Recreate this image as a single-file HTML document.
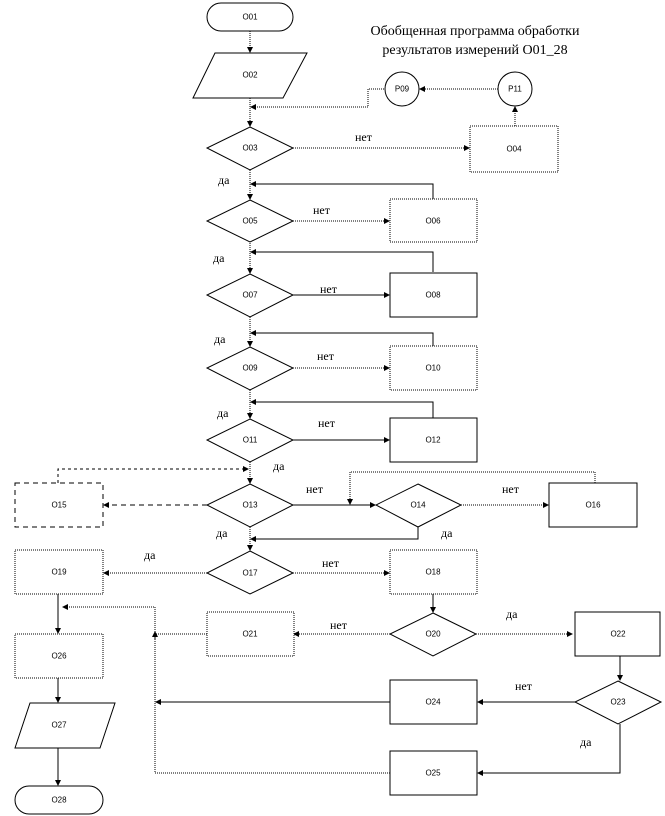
<!DOCTYPE html>
<html><head><meta charset="utf-8"><style>
html,body{margin:0;padding:0;background:#fff;}
svg{display:block}
.s{font-family:"Liberation Sans",sans-serif;font-size:8px;fill:#000;text-anchor:middle;dominant-baseline:central}
.l{font-family:"Liberation Serif","DejaVu Serif",serif;font-size:12px;fill:#000}
.t{font-family:"Liberation Serif","DejaVu Serif",serif;font-size:14px;fill:#000;text-anchor:middle}
.b{fill:#fff;stroke:#000;stroke-width:1}
.d{stroke-dasharray:1,1}
line,polyline{fill:none;stroke:#000;stroke-width:1}
</style></head><body>
<svg width="665" height="816" viewBox="0 0 665 816" xmlns="http://www.w3.org/2000/svg">
<defs><marker id="a" markerWidth="6" markerHeight="6" refX="5" refY="3" orient="auto" markerUnits="userSpaceOnUse"><path d="M0,0 L6,3 L0,6z" fill="#000"/></marker></defs>
<text class="t" x="475" y="35">Обобщенная программа обработки</text>
<text class="t" x="475" y="54">результатов измерений О01_28</text>

<line class="d" x1="250" y1="31" x2="250" y2="52" marker-end="url(#a)"/>
<line class="d" x1="250" y1="98" x2="250" y2="126" marker-end="url(#a)"/>
<polyline class="d" points="386,89 368,89 368,107 251,107" marker-end="url(#a)"/>
<line class="d" x1="498" y1="89" x2="420" y2="89" marker-end="url(#a)"/>
<line class="d" x1="515" y1="126" x2="515" y2="107" marker-end="url(#a)"/>
<line class="d" x1="293" y1="148" x2="469" y2="148" marker-end="url(#a)"/>
<line class="d" x1="250" y1="170" x2="250" y2="199" marker-end="url(#a)"/>
<polyline points="433,199 433,184 251,184" marker-end="url(#a)"/>
<line class="d" x1="293" y1="221" x2="389" y2="221" marker-end="url(#a)"/>
<line class="d" x1="250" y1="241" x2="250" y2="273" marker-end="url(#a)"/>
<polyline points="433,272 433,252 251,252" marker-end="url(#a)"/>
<line x1="293" y1="295" x2="389" y2="295" marker-end="url(#a)"/>
<line class="d" x1="250" y1="317" x2="250" y2="346" marker-end="url(#a)"/>
<polyline points="433,346 433,333 251,333" marker-end="url(#a)"/>
<line class="d" x1="293" y1="368" x2="389" y2="368" marker-end="url(#a)"/>
<line class="d" x1="250" y1="390" x2="250" y2="418" marker-end="url(#a)"/>
<polyline points="433,418 433,402 251,402" marker-end="url(#a)"/>
<line x1="293" y1="440" x2="389" y2="440" marker-end="url(#a)"/>
<line class="d" x1="250" y1="462" x2="250" y2="483" marker-end="url(#a)"/>
<polyline class="d" points="58,483 58,469 248,469" marker-end="url(#a)" style="stroke-dasharray:3,3"/>
<line x1="207" y1="505" x2="104" y2="505" marker-end="url(#a)" style="stroke-dasharray:5,4"/>
<line x1="293" y1="505" x2="375" y2="505" marker-end="url(#a)"/>
<line class="d" x1="461" y1="505" x2="548" y2="505" marker-end="url(#a)"/>
<polyline class="d" points="595,483 595,472 350,472 350,504" marker-end="url(#a)"/>
<polyline points="418,527 418,539 251,539" marker-end="url(#a)"/>
<line class="d" x1="250" y1="527" x2="250" y2="550" marker-end="url(#a)"/>
<line class="d" x1="207" y1="573" x2="104" y2="573" marker-end="url(#a)"/>
<line class="d" x1="293" y1="573" x2="389" y2="573" marker-end="url(#a)"/>
<line x1="433" y1="594" x2="433" y2="612" marker-end="url(#a)"/>
<line class="d" x1="390" y1="634" x2="294" y2="634" marker-end="url(#a)"/>
<line class="d" x1="476" y1="634" x2="572" y2="634" marker-end="url(#a)"/>
<line x1="620" y1="656" x2="620" y2="680" marker-end="url(#a)"/>
<line x1="575" y1="702" x2="478" y2="702" marker-end="url(#a)"/>
<polyline points="620,724 620,773 478,773" marker-end="url(#a)"/>
<line x1="390" y1="702" x2="156" y2="702" marker-end="url(#a)"/>
<line class="d" x1="207" y1="634" x2="156" y2="634"/>
<polyline class="d" points="390,773 155,773 155,607 63,607" marker-end="url(#a)"/>
<line x1="155" y1="640" x2="155" y2="632" marker-end="url(#a)"/>
<line x1="58" y1="594" x2="58" y2="633" marker-end="url(#a)"/>
<line x1="58" y1="678" x2="58" y2="702" marker-end="url(#a)"/>
<line x1="58" y1="748" x2="58" y2="785" marker-end="url(#a)"/>

<rect class="b" x="207" y="3" width="86" height="28" rx="14"/><text class="s" x="250" y="17">O01</text>
<polygon class="b" points="215,53 307,53 283,98 193,98"/><text class="s" x="250" y="75">O02</text>
<circle class="b" cx="402" cy="89" r="17"/><text class="s" x="402" y="89">P09</text>
<circle class="b" cx="515" cy="89" r="17"/><text class="s" x="515" y="89">P11</text>
<polygon class="b" points="250,127 293,148 250,170 207,148"/><text class="s" x="250" y="148">O03</text>
<rect class="b d" x="470" y="126" width="88" height="46"/><text class="s" x="514" y="149">O04</text>
<polygon class="b" points="250,200 293,221 250,242 207,221"/><text class="s" x="250" y="221">O05</text>
<rect class="b d" x="390" y="199" width="87" height="43"/><text class="s" x="433" y="221">O06</text>
<polygon class="b" points="250,274 293,295 250,317 207,295"/><text class="s" x="250" y="295">O07</text>
<rect class="b" x="390" y="273" width="87" height="44"/><text class="s" x="433" y="295">O08</text>
<polygon class="b" points="250,347 293,368 250,390 207,368"/><text class="s" x="250" y="368">O09</text>
<rect class="b d" x="390" y="346" width="87" height="44"/><text class="s" x="433" y="368">O10</text>
<polygon class="b" points="250,419 293,440 250,462 207,440"/><text class="s" x="250" y="440">O11</text>
<rect class="b" x="390" y="418" width="87" height="44"/><text class="s" x="433" y="440">O12</text>
<polygon class="b" points="250,484 293,505 250,527 207,505"/><text class="s" x="250" y="505">O13</text>
<rect class="b" x="15" y="483" width="88" height="44" style="stroke-dasharray:5,4"/><text class="s" x="59" y="505">O15</text>
<polygon class="b" points="418,484 461,505 418,527 376,505"/><text class="s" x="418" y="505">O14</text>
<rect class="b" x="549" y="483" width="88" height="44"/><text class="s" x="593" y="505">O16</text>
<polygon class="b" points="250,551 293,573 250,594 207,573"/><text class="s" x="250" y="573">O17</text>
<rect class="b d" x="15" y="550" width="88" height="44"/><text class="s" x="59" y="572">O19</text>
<rect class="b d" x="390" y="550" width="87" height="44"/><text class="s" x="433" y="572">O18</text>
<polygon class="b" points="433,613 476,634 433,656 390,634"/><text class="s" x="433" y="634">O20</text>
<rect class="b d" x="207" y="612" width="87" height="44"/><text class="s" x="250" y="634">O21</text>
<rect class="b" x="575" y="612" width="85" height="44"/><text class="s" x="618" y="634">O22</text>
<polygon class="b" points="618,681 661,702 618,724 575,702"/><text class="s" x="618" y="702">O23</text>
<rect class="b" x="390" y="680" width="87" height="44"/><text class="s" x="433" y="702">O24</text>
<rect class="b" x="390" y="751" width="87" height="44"/><text class="s" x="433" y="773">O25</text>
<rect class="b d" x="15" y="634" width="88" height="44"/><text class="s" x="59" y="656">O26</text>
<polygon class="b" points="30,703 115,703 100,748 15,748"/><text class="s" x="59" y="725">O27</text>
<rect class="b" x="15" y="786" width="88" height="28" rx="14"/><text class="s" x="59" y="800">O28</text>

<text class="l" x="355" y="141">нет</text>
<text class="l" x="218" y="184">да</text>
<text class="l" x="313" y="214">нет</text>
<text class="l" x="213" y="262">да</text>
<text class="l" x="320" y="293">нет</text>
<text class="l" x="214" y="343">да</text>
<text class="l" x="317" y="360">нет</text>
<text class="l" x="217" y="417">да</text>
<text class="l" x="318" y="427">нет</text>
<text class="l" x="273" y="470">да</text>
<text class="l" x="306" y="493">нет</text>
<text class="l" x="502" y="493">нет</text>
<text class="l" x="216" y="537">да</text>
<text class="l" x="441" y="537">да</text>
<text class="l" x="144" y="559">да</text>
<text class="l" x="322" y="567">нет</text>
<text class="l" x="330" y="629">нет</text>
<text class="l" x="506" y="618">да</text>
<text class="l" x="515" y="690">нет</text>
<text class="l" x="580" y="746">да</text>
</svg>
</body></html>
